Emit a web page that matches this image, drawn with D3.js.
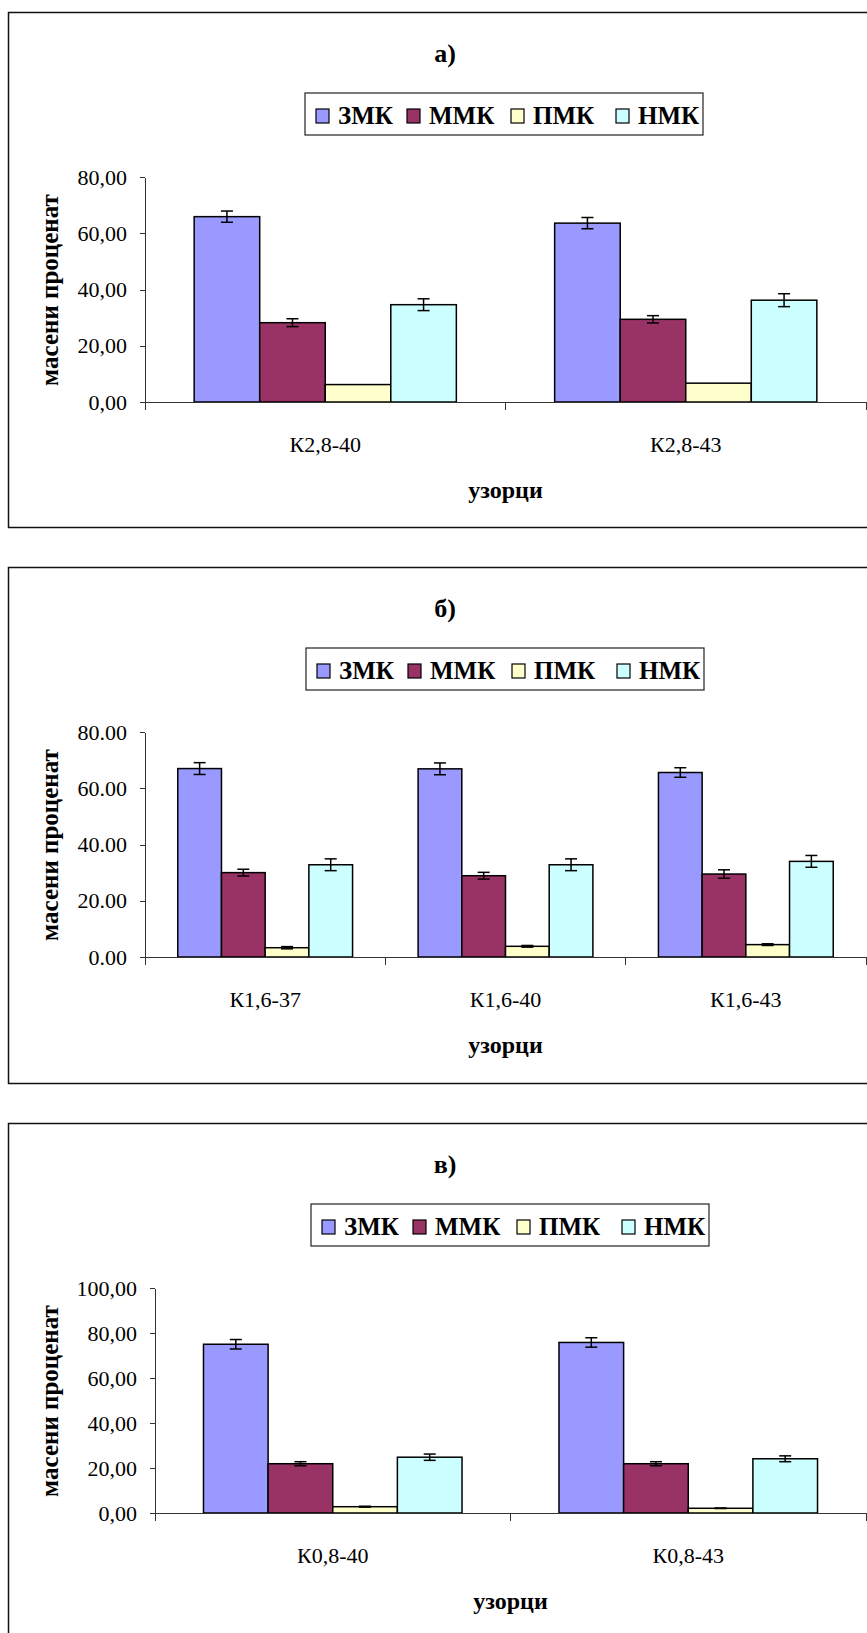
<!DOCTYPE html>
<html lang="mk">
	<head>
		<meta charset="utf-8">
		<title>masa procent</title>
		<script type="text/javascript" src="https://cdn.jsdelivr.net/npm/d3@7"></script>
		<style type="text/css">
			body {
			  margin: 0;
			  background: #fff;
			}
			.axis path,
			.axis line {
			  stroke: #333;
			  shape-rendering: crispEdges;
			}
			.axis text {
			  font-size: 22px;
			  fill: #000;
			}
			.bold {
			  font-weight: bold;
			}
		</style>
	</head>
	<body>

		<script type="text/javascript">

			var w = 867,
			    h = 1633,
			    serif = "'Liberation Serif', 'Times New Roman', Times, serif";

			// series (legend order)
			var series = ["ЗМК", "ММК", "ПМК", "НМК"];
			var colors = ["#9999ff", "#993366", "#ffffcc", "#ccffff"];

			// panel а)
			var catsA = ["К2,8-40", "К2,8-43"];
			var valsA = [[65.9, 28.2, 6.2, 34.6], [63.6, 29.4, 6.7, 36.2]];
			var errsA = [[2.0, 1.4, 0, 2.1], [2.0, 1.3, 0, 2.3]];
			var ticksA = [0, 20, 40, 60, 80];

			// panel б)
			var catsB = ["К1,6-37", "К1,6-40", "К1,6-43"];
			var valsB = [[67.0, 30.0, 3.3, 32.8], [66.9, 28.9, 3.8, 32.8], [65.6, 29.5, 4.4, 34.0]];
			var errsB = [[2.1, 1.2, 0.4, 2.1], [2.1, 1.2, 0.3, 2.1], [1.7, 1.5, 0.3, 2.1]];
			var ticksB = [0, 20, 40, 60, 80];

			// panel в)
			var catsC = ["К0,8-40", "К0,8-43"];
			var valsC = [[75.0, 21.9, 2.8, 24.8], [75.8, 21.9, 2.1, 24.1]];
			var errsC = [[2.1, 0.9, 0.2, 1.4], [2.1, 0.9, 0.1, 1.3]];
			var ticksC = [0, 20, 40, 60, 80, 100];

			var fmtDot = d3.format(".2f");
			var fmtComma = function(v) { return fmtDot(v).replace(".", ","); };

			var svg = d3.select("body")
			            .append("svg")
			            .attr("width", w)
			            .attr("height", h);

			function drawPanel(p) {
				var g = svg.append("g")
				           .attr("transform", "translate(0," + p.top + ")");

				// outer frame (runs off the right edge like the original)
				g.append("rect")
				 .attr("x", 8.5)
				 .attr("y", 0.5)
				 .attr("width", 900)
				 .attr("height", p.frameH)
				 .attr("fill", "none")
				 .attr("stroke", "#111")
				 .attr("stroke-width", 1.5);

				// title
				g.append("text")
				 .attr("class", "bold")
				 .attr("x", 445)
				 .attr("y", 50)
				 .attr("text-anchor", "middle")
				 .attr("font-size", "26px")
				 .text(p.title);

				// legend
				var offs = [11, 102, 206, 311];
				var leg = g.append("g")
				           .attr("transform", "translate(" + p.legendX + ",81)");
				leg.append("rect")
				   .attr("width", 398)
				   .attr("height", 42)
				   .attr("fill", "#fff")
				   .attr("stroke", "#222")
				   .attr("stroke-width", 1.2);
				var item = leg.selectAll("g.item")
				              .data(series)
				              .enter()
				              .append("g")
				              .attr("class", "item")
				              .attr("transform", function(d, i) { return "translate(" + offs[i] + ",0)"; });
				item.append("rect")
				    .attr("y", 16)
				    .attr("width", 13)
				    .attr("height", 14)
				    .attr("fill", function(d, i) { return colors[i]; })
				    .attr("stroke", "#000")
				    .attr("stroke-width", 1.2);
				item.append("text")
				    .attr("class", "bold")
				    .attr("x", 22)
				    .attr("y", 31)
				    .attr("font-size", "25px")
				    .text(function(d) { return d; });

				// scales
				var x = d3.scaleBand()
				          .domain(p.cats)
				          .range([p.axisX, 866]);
				var xs = d3.scaleBand()
				           .domain(series)
				           .range([0, x.bandwidth()])
				           .paddingOuter(0.75);
				var y = d3.scaleLinear()
				          .domain([0, d3.max(p.ticks)])
				          .range([390, 165]);

				// bars
				var cat = g.selectAll("g.cat")
				           .data(p.cats)
				           .enter()
				           .append("g")
				           .attr("class", "cat")
				           .attr("transform", function(d) { return "translate(" + x(d) + ",0)"; });

				var rows = cat.selectAll("g.bar")
				              .data(function(d, i) {
				              	return series.map(function(s, j) {
				              		return {s: s, c: colors[j], v: p.vals[i][j], e: p.errs[i][j]};
				              	});
				              })
				              .enter()
				              .append("g")
				              .attr("class", "bar");

				rows.append("rect")
				    .attr("x", function(d) { return xs(d.s); })
				    .attr("y", function(d) { return y(d.v); })
				    .attr("width", xs.bandwidth())
				    .attr("height", function(d) { return y(0) - y(d.v); })
				    .attr("fill", function(d) { return d.c; })
				    .attr("stroke", "#000")
				    .attr("stroke-width", 1.5);

				// error bars
				var eb = rows.filter(function(d) { return d.e > 0; });
				var cx = function(d) { return xs(d.s) + xs.bandwidth() / 2; };
				eb.append("line")
				  .attr("x1", cx).attr("x2", cx)
				  .attr("y1", function(d) { return y(d.v + d.e); })
				  .attr("y2", function(d) { return y(d.v - d.e); })
				  .attr("stroke", "#000").attr("stroke-width", 1.5);
				[1, -1].forEach(function(sg) {
					eb.append("line")
					  .attr("x1", function(d) { return cx(d) - 6; })
					  .attr("x2", function(d) { return cx(d) + 6; })
					  .attr("y1", function(d) { return y(d.v + sg * d.e); })
					  .attr("y2", function(d) { return y(d.v + sg * d.e); })
					  .attr("stroke", "#000").attr("stroke-width", 1.5);
				});

				// y axis
				g.append("g")
				 .attr("class", "axis")
				 .attr("transform", "translate(" + p.axisX + ",0)")
				 .call(d3.axisLeft(y)
				         .tickValues(p.ticks)
				         .tickFormat(p.fmt)
				         .tickSize(5)
				         .tickSizeOuter(0)
				         .tickPadding(13));

				// x axis: line, boundary ticks, category labels
				var xa = g.append("g").attr("class", "axis");
				xa.append("line")
				  .attr("x1", p.axisX).attr("x2", x.range()[1])
				  .attr("y1", y(0)).attr("y2", y(0));
				xa.selectAll("line.b")
				  .data(p.cats.map(function(c) { return x(c); }).concat([x.range()[1]]))
				  .enter()
				  .append("line")
				  .attr("class", "b")
				  .attr("x1", function(d) { return d; }).attr("x2", function(d) { return d; })
				  .attr("y1", y(0)).attr("y2", y(0) + 8);
				g.append("g")
				 .attr("class", "axis")
				 .attr("transform", "translate(0," + y(0) + ")")
				 .call(d3.axisBottom(x).tickSize(0).tickPadding(34))
				 .call(function(s) { s.select(".domain").remove(); });

				// axis titles
				g.append("text")
				 .attr("class", "bold")
				 .attr("text-anchor", "middle")
				 .attr("font-size", "24px")
				 .attr("x", (p.axisX + 866) / 2)
				 .attr("y", 486)
				 .text("узорци");

				g.append("text")
				 .attr("class", "bold")
				 .attr("text-anchor", "middle")
				 .attr("font-size", "25px")
				 .attr("transform", "translate(58," + 278 + ") rotate(-90)")
				 .text("масени проценат");
			}

			drawPanel({top: 12, frameH: 515, title: "а)", legendX: 305, axisX: 145,
			           cats: catsA, vals: valsA, errs: errsA, ticks: ticksA, fmt: fmtComma});
			drawPanel({top: 567, frameH: 516, title: "б)", legendX: 306, axisX: 145,
			           cats: catsB, vals: valsB, errs: errsB, ticks: ticksB, fmt: fmtDot});
			drawPanel({top: 1123, frameH: 600, title: "в)", legendX: 311, axisX: 155,
			           cats: catsC, vals: valsC, errs: errsC, ticks: ticksC, fmt: fmtComma});

			// every label in Times-like serif
			svg.selectAll("text").style("font-family", serif);

		</script>
	</body>
</html>
